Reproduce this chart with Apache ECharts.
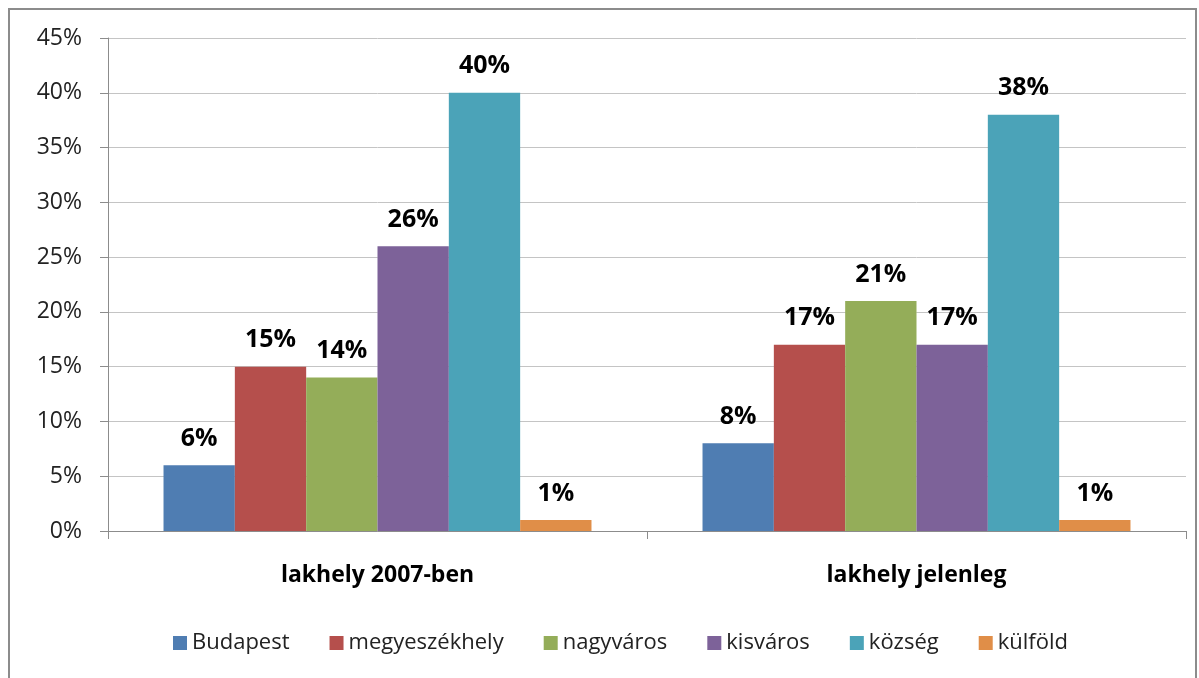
<!DOCTYPE html>
<html>
<head>
<meta charset="utf-8">
<script src="https://cdn.jsdelivr.net/npm/echarts@6/dist/echarts.min.js"></script>
<style>
  html, body { margin: 0; padding: 0; background: #fff; }
  #chart { width: 1199px; height: 678px; }
</style>
</head>
<body>
<div id="chart"></div>
<script>
// kategóriák és értékek (%)
var categories = ['lakhely 2007-ben', 'lakhely jelenleg'];
var seriesNames = ['Budapest', 'megyeszékhely', 'nagyváros', 'kisváros', 'község', 'külföld'];
var budapest = [6, 8];
var megyeszekhely = [15, 17];
var nagyvaros = [14, 21];
var kisvaros = [26, 17];
var kozseg = [40, 38];
var kulfold = [1, 1];
var yTicks = [0, 5, 10, 15, 20, 25, 30, 35, 40, 45];

var values = [budapest, megyeszekhely, nagyvaros, kisvaros, kozseg, kulfold];
var colors = ['#4F7DB2', '#B54F4C', '#94AD59', '#7D6299', '#4BA3B8', '#E08E48'];
var font = '"Open Sans", Lato, sans-serif';

var chart = echarts.init(document.getElementById('chart'));

var series = seriesNames.map(function (name, i) {
    return {
        name: name,
        type: 'bar',
        data: values[i],
        barGap: '0%',
        barCategoryGap: '20.6%',
        itemStyle: { color: colors[i] },
        label: {
            show: true,
            position: 'top',
            distance: 14,
            formatter: '{c}%',
            fontFamily: font,
            fontWeight: 'bold',
            fontSize: 25,
            color: '#000'
        }
    };
});

chart.setOption({
    animation: false,
    color: colors,
    graphic: [{
        type: 'rect',
        shape: { x: 9, y: 9, width: 1187, height: 700 },
        style: { fill: 'none', stroke: '#8c8c8c', lineWidth: 2 },
        silent: true
    }],
    grid: { left: 108, right: 13, top: 38, bottom: 147 },
    xAxis: {
        type: 'category',
        data: categories,
        axisLine: { lineStyle: { color: '#8c8c8c' } },
        axisTick: { show: true, length: 8, lineStyle: { color: '#8c8c8c' } },
        axisLabel: {
            margin: 33,
            fontFamily: font,
            fontWeight: 'bold',
            fontSize: 23,
            color: '#000'
        }
    },
    yAxis: {
        type: 'value',
        min: 0,
        max: 45,
        interval: 5,
        axisLine: { show: true, lineStyle: { color: '#8c8c8c' } },
        axisTick: { show: true, length: 8, lineStyle: { color: '#8c8c8c' } },
        splitLine: { lineStyle: { color: '#c4c4c4' } },
        axisLabel: {
            margin: 26,
            fontFamily: font,
            fontSize: 23,
            color: '#222',
            formatter: function (v) { return yTicks.indexOf(v) >= 0 ? v + '%' : ''; }
        }
    },
    legend: {
        data: seriesNames,
        left: 168,
        top: 627,
        itemWidth: 14,
        itemHeight: 14,
        itemGap: 40,
        itemStyle: { borderWidth: 0 },
        icon: 'rect',
        textStyle: { fontFamily: font, fontSize: 22, color: '#222' }
    },
    series: series
});
</script>
</body>
</html>
